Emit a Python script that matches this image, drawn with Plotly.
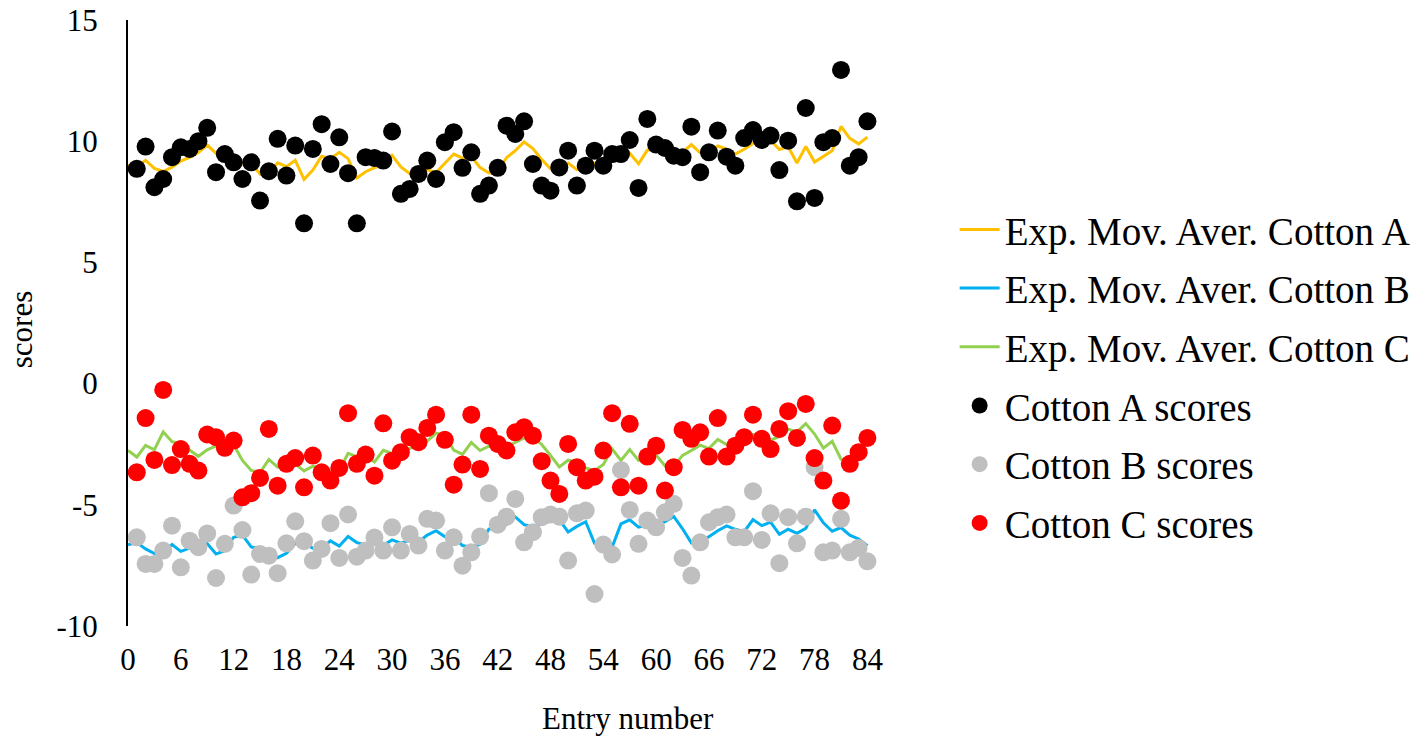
import plotly.graph_objects as go

entries = list(range(1, 85))
ema_x = list(range(0, 85))

cotton_a = [8.86, 9.78, 8.10, 8.44, 9.34, 9.75, 9.68, 10.00, 10.55, 8.72,
            9.47, 9.13, 8.44, 9.13, 7.55, 8.76, 10.10, 8.58, 9.82, 6.61,
            9.68, 10.70, 9.06, 10.16, 8.68, 6.61, 9.34, 9.31, 9.20, 10.40,
            7.83, 8.03, 8.65, 9.20, 8.44, 9.96, 10.37, 8.90, 9.54, 7.83,
            8.17, 8.90, 10.64, 10.30, 10.82, 9.06, 8.17, 7.96, 8.92, 9.61,
            8.17, 8.99, 9.61, 8.99, 9.47, 9.47, 10.05, 8.07, 10.92, 9.86,
            9.72, 9.40, 9.34, 10.60, 8.72, 9.54, 10.44, 9.36, 8.99, 10.13,
            10.46, 10.05, 10.23, 8.81, 10.02, 7.52, 11.37, 7.66, 9.96, 10.13,
            12.94, 8.99, 9.34, 10.82]

cotton_b = [-6.34, -7.44, -7.44, -6.89, -5.86, -7.58, -6.48, -6.75, -6.18, -8.02,
            -6.61, -5.03, -6.04, -7.88, -7.03, -7.10, -7.82, -6.59, -5.68, -6.50,
            -7.30, -6.82, -5.76, -7.19, -5.40, -7.14, -6.89, -6.35, -6.89, -5.93,
            -6.89, -6.20, -6.68, -5.58, -5.65, -6.89, -6.34, -7.51, -6.96, -6.31,
            -4.52, -5.82, -5.49, -4.76, -6.55, -6.13, -5.51, -5.40, -5.49, -7.30,
            -5.35, -5.24, -8.68, -6.64, -7.05, -3.56, -5.21, -6.61, -5.65, -5.93,
            -5.31, -4.96, -7.19, -7.92, -6.55, -5.72, -5.51, -5.40, -6.34, -6.34,
            -4.44, -6.45, -5.35, -7.41, -5.51, -6.59, -5.49, -3.45, -6.96, -6.89,
            -5.58, -6.96, -6.78, -7.33]

cotton_c = [-3.66, -1.42, -3.15, -0.26, -3.36, -2.70, -3.31, -3.59, -2.10, -2.21,
            -2.65, -2.35, -4.69, -4.52, -3.89, -1.87, -4.21, -3.31, -3.07, -4.28,
            -2.97, -3.66, -4.00, -3.48, -1.22, -3.31, -2.93, -3.80, -1.64, -3.18,
            -2.83, -2.21, -2.42, -1.83, -1.28, -2.32, -4.17, -3.34, -1.28, -3.52,
            -2.15, -2.49, -2.76, -2.01, -1.80, -2.15, -3.20, -4.00, -4.55, -2.49,
            -3.45, -4.00, -3.84, -2.76, -1.22, -4.28, -1.66, -4.21, -3.01, -2.56,
            -4.41, -3.45, -1.91, -2.28, -2.01, -3.01, -1.42, -3.01, -2.56, -2.21,
            -1.28, -2.28, -2.70, -1.87, -1.14, -2.24, -0.84, -3.07, -4.00, -1.73,
            -4.83, -3.31, -2.83, -2.24]

ema_a = [9.00, 8.96, 9.21, 8.88, 8.75, 8.93, 9.18, 9.33, 9.53, 9.84,
         9.50, 9.49, 9.38, 9.10, 9.11, 8.64, 8.68, 9.11, 8.95, 9.21,
         8.43, 8.81, 9.38, 9.28, 9.54, 9.28, 8.48, 8.74, 8.91, 9.00,
         9.42, 8.94, 8.67, 8.66, 8.82, 8.71, 9.09, 9.47, 9.30, 9.37,
         8.91, 8.69, 8.75, 9.32, 9.61, 9.97, 9.70, 9.24, 8.86, 8.88,
         9.10, 8.82, 8.87, 9.09, 9.06, 9.18, 9.27, 9.50, 9.07, 9.63,
         9.70, 9.71, 9.62, 9.54, 9.86, 9.52, 9.53, 9.80, 9.67, 9.47,
         9.67, 9.91, 9.95, 10.03, 9.66, 9.77, 9.10, 9.78, 9.14, 9.39,
         9.61, 10.61, 10.12, 9.89, 10.17]

ema_b = [-6.65, -6.56, -6.82, -7.01, -6.97, -6.64, -6.92, -6.79, -6.78, -6.60,
         -7.03, -6.90, -6.34, -6.25, -6.74, -6.83, -6.91, -7.18, -7.00, -6.60,
         -6.57, -6.79, -6.80, -6.49, -6.70, -6.31, -6.56, -6.66, -6.57, -6.67,
         -6.45, -6.58, -6.47, -6.53, -6.25, -6.07, -6.32, -6.33, -6.68, -6.76,
         -6.63, -6.00, -5.95, -5.81, -5.50, -5.82, -5.91, -5.79, -5.67, -5.62,
         -6.12, -5.89, -5.70, -6.59, -6.61, -6.74, -5.79, -5.62, -5.92, -5.84,
         -5.87, -5.70, -5.48, -5.99, -6.57, -6.56, -6.31, -6.07, -5.87, -6.01,
         -6.11, -5.61, -5.86, -5.71, -6.22, -6.01, -6.18, -5.97, -5.21, -5.74,
         -6.09, -5.94, -6.25, -6.41, -6.69]

ema_c = [-2.76, -3.03, -2.55, -2.73, -1.99, -2.40, -2.49, -2.74, -3.00, -2.73,
         -2.57, -2.59, -2.52, -3.17, -3.58, -3.67, -3.13, -3.45, -3.41, -3.31,
         -3.60, -3.41, -3.49, -3.64, -3.59, -2.88, -3.01, -2.99, -3.23, -2.75,
         -2.88, -2.87, -2.67, -2.60, -2.37, -2.04, -2.12, -2.74, -2.92, -2.43,
         -2.76, -2.58, -2.55, -2.61, -2.43, -2.24, -2.21, -2.51, -2.96, -3.44,
         -3.16, -3.25, -3.48, -3.59, -3.34, -2.70, -3.17, -2.72, -3.17, -3.12,
         -2.95, -3.39, -3.41, -2.96, -2.76, -2.54, -2.68, -2.30, -2.51, -2.53,
         -2.43, -2.09, -2.15, -2.32, -2.19, -1.88, -1.99, -1.65, -2.08, -2.66,
         -2.38, -3.12, -3.18, -3.08, -2.83]

x_ticks = list(range(0, 85, 6))
y_ticks = [-10, -5, 0, 5, 10, 15]
y_tick_text = ["-10", "-5", "0", "5", "10", "15"]

FONT = "Liberation Serif"

fig = go.Figure()
fig.add_trace(go.Scatter(x=ema_x, y=ema_a, mode="lines", name="Exp. Mov. Aver. Cotton A",
                         line=dict(color="#FFC000", width=3), legendgroup="1"))
fig.add_trace(go.Scatter(x=ema_x, y=ema_b, mode="lines", name="Exp. Mov. Aver. Cotton B",
                         line=dict(color="#00B0F0", width=3), legendgroup="2"))
fig.add_trace(go.Scatter(x=ema_x, y=ema_c, mode="lines", name="Exp. Mov. Aver. Cotton C",
                         line=dict(color="#92D050", width=3), legendgroup="3"))
fig.add_trace(go.Scatter(x=entries, y=cotton_a, mode="markers", name="Cotton A scores",
                         marker=dict(color="#000000", size=18), legendgroup="4"))
fig.add_trace(go.Scatter(x=entries, y=cotton_b, mode="markers", name="Cotton B scores",
                         marker=dict(color="#BFBFBF", size=18), legendgroup="5"))
fig.add_trace(go.Scatter(x=entries, y=cotton_c, mode="markers", name="Cotton C scores",
                         marker=dict(color="#FF0000", size=18), legendgroup="6"))

fig.update_layout(
    width=1418, height=746,
    margin=dict(l=128, r=533, t=20, b=120, autoexpand=False),
    paper_bgcolor="white", plot_bgcolor="white",
    font=dict(family=FONT, color="#000000", size=30),
    showlegend=True,
    legend=dict(x=1.092, y=0.707, xanchor="left", yanchor="top",
                font=dict(family=FONT, size=39, color="#000000"),
                traceorder="grouped", tracegroupgap=5,
                bgcolor="rgba(0,0,0,0)", itemwidth=40),
    annotations=[
        dict(text="Entry number", xref="paper", yref="paper", x=(628 - 128) / 756.6,
             y=-0.153, xanchor="center", yanchor="middle", showarrow=False,
             font=dict(family=FONT, size=31, color="#000000")),
        dict(text="scores", xref="paper", yref="paper", x=-0.141, y=(626 - 330) / 606,
             xanchor="center", yanchor="middle", showarrow=False, textangle=-90,
             font=dict(family=FONT, size=31, color="#000000")),
    ],
)
fig.update_xaxes(range=[0, 86], tickvals=x_ticks, showgrid=False, zeroline=False,
                 showline=False, ticks="", ticklabelstandoff=12, automargin=False,
                 tickfont=dict(family=FONT, size=31))
fig.update_yaxes(range=[-10, 15], tickvals=y_ticks, ticktext=y_tick_text,
                 showgrid=False, zeroline=False,
                 showline=True, linecolor="#000000", linewidth=2, ticks="",
                 ticklabelstandoff=22, automargin=False,
                 tickfont=dict(family=FONT, size=31))

fig.write_html("out.html", config={"displayModeBar": False},
               post_script="document.body.style.margin='0';document.body.style.overflow='hidden';")
